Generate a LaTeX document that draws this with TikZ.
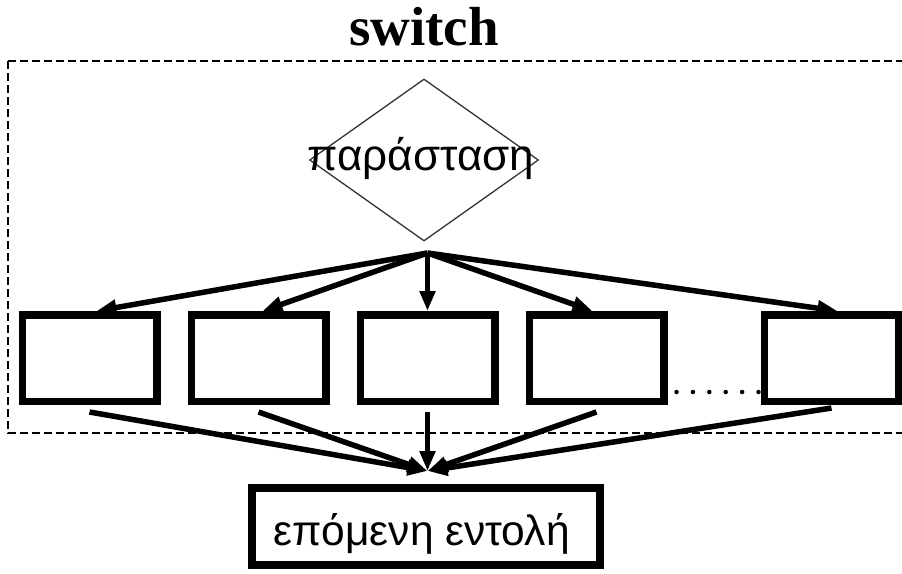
\documentclass[tikz,border=0pt]{standalone}
\usepackage{fontspec}
\setmainfont{Liberation Sans}
\newfontfamily\titlefont{Liberation Serif}
\usetikzlibrary{shapes.geometric,positioning,arrows.meta}

\begin{document}
\begin{tikzpicture}[
    x=1pt, y=-1pt,
    node distance=27pt and 27pt,
    font=\fontsize{44}{50}\selectfont,
    text centered,
    casebox/.style={
      draw, rectangle,
      line width=7.5pt,
      minimum width=134.5pt,
      minimum height=86.5pt,
      inner sep=0
    },
    endbox/.style={
      draw, rectangle,
      line width=8.5pt,
      minimum width=348pt,
      minimum height=77pt,
      inner sep=0
    },
    decision/.style={
      draw=black!80, diamond,
      line width=1.3pt,
      minimum width=229pt,
      minimum height=162pt,
      inner sep=0
    },
    flow/.style={line width=5.5pt, -{Triangle[length=20pt,width=15pt]}},
    frame/.style={line width=1.4pt, dash pattern=on 8pt off 4pt},
    dotrow/.style={line width=4.5pt, line cap=round, dash pattern=on 0pt off 16.4pt}
  ]

  \useasboundingbox (0,0) rectangle (902,573);

  \node [anchor=base, font=\titlefont\bfseries\fontsize{55}{60}\selectfont] (title) at (424,45) {switch};

  % switch body
  \draw [frame] (8,61) rectangle (912,433);

  \node [decision] (dia) at (424,160) {};
  \node [anchor=base] (expr) at (421,170) {παράσταση};

  % the cases
  \node [casebox] (c1) at (89.5,358) {};
  \node [casebox] (c2) [right=of c1] {};
  \node [casebox] (c3) [right=of c2] {};
  \node [casebox] (c4) [right=of c3] {};
  \node [casebox] (c5) [right=93pt of c4] {};

  \draw [dotrow] ([xshift=9pt,yshift=13pt]c4.south east) -- ([yshift=13pt]c5.south west);

  \node [endbox] (nxt) at (426,526.5) {};
  \node [anchor=base west, font=\fontsize{42.5}{50}\selectfont] (nxtlbl) at (270,545) {επόμενη εντολή};

  \path (c3.north) ++(0,-58) coordinate (fork);
  \path (c3.south) ++(0,66) coordinate (merge);

  \draw [flow] (fork) -- ([xshift=7pt]c1.north);
  \draw [flow] (fork) -- ([xshift=4pt]c2.north);
  \draw [flow] (fork) -- (c3.north);
  \draw [flow] (fork) -- ([xshift=-4pt]c4.north);
  \draw [flow] (fork) -- ([xshift=6pt]c5.north);

  \draw [flow] ([yshift=-7pt]c1.south) -- (merge);
  \draw [flow] ([yshift=-7pt]c2.south) -- (merge);
  \draw [flow] ([yshift=-7pt]c3.south) -- (merge);
  \draw [flow] ([yshift=-7pt]c4.south) -- (merge);
  \draw [flow] ([yshift=-3pt]c5.south) -- (merge);

\end{tikzpicture}
\end{document}
